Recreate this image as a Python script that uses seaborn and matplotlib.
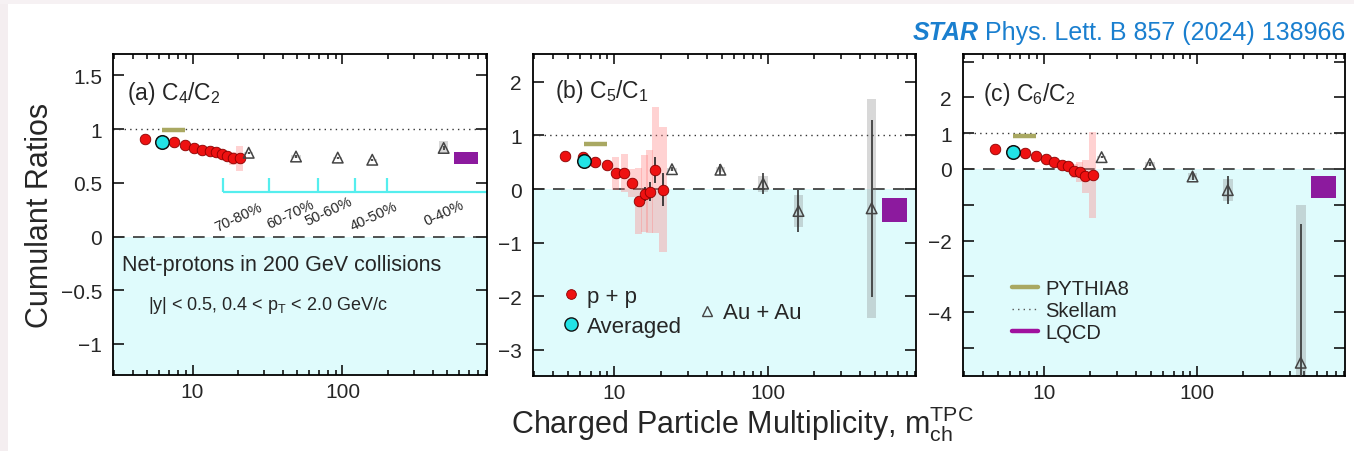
import numpy as np
import matplotlib
matplotlib.use("Agg")
import matplotlib.pyplot as plt
from matplotlib.lines import Line2D
from matplotlib.patches import Rectangle
from matplotlib.ticker import LogLocator, NullFormatter
import seaborn as sns

# ---------------------------------------------------------------- data
# charged-particle multiplicity of the p+p bins, the p+p average and Au+Au centralities
pp_mult = [4.8, 6.2, 7.5, 8.9, 10.2, 11.6, 13.0, 14.4, 15.7, 17.0, 18.5, 20.7]
avg_mult = [6.3]
auau_mult = [23.7, 49.0, 93.0, 158.0, 473.0]

# C4/C2
c42_pp = [0.907, 0.89, 0.876, 0.851, 0.826, 0.805, 0.792, 0.783, 0.764, 0.752, 0.727, 0.727]
c42_pp_stat = [0.005] * 12
c42_pp_sys = [0.01, 0.01, 0.01, 0.01, 0.01, 0.01, 0.015, 0.02, 0.03, 0.04, 0.06, 0.12]
c42_avg = [0.876]
c42_aa = [0.78, 0.745, 0.735, 0.715, 0.825]
c42_aa_stat = [0.01, 0.01, 0.01, 0.01, 0.02]
c42_aa_sys = [0.01, 0.01, 0.01, 0.01, 0.06]
c42_lqcd, c42_lqcd_err = 0.727, 0.056
c42_pythia = 0.99

# C5/C1
c51_pp = [0.62, 0.60, 0.51, 0.45, 0.29, 0.30, 0.11, -0.22, -0.09, -0.05, 0.35, -0.01]
c51_pp_stat = [0.02, 0.02, 0.02, 0.03, 0.04, 0.05, 0.06, 0.08, 0.13, 0.18, 0.24, 0.30]
c51_pp_sys = [0.03, 0.03, 0.04, 0.05, 0.30, 0.35, 0.26, 0.62, 0.72, 0.77, 1.18, 1.17]
c51_avg = [0.52]
c51_aa = [0.37, 0.36, 0.10, -0.41, -0.36]
c51_aa_stat = [0.04, 0.10, 0.20, 0.40, 1.65]
c51_aa_sys = [0.03, 0.05, 0.15, 0.30, 2.04]
c51_lqcd, c51_lqcd_err = -0.39, 0.22
c51_pythia = 0.835

# C6/C2
c62_pp = [0.56, 0.50, 0.45, 0.37, 0.28, 0.19, 0.12, 0.07, -0.05, -0.09, -0.21, -0.17]
c62_pp_stat = [0.01, 0.01, 0.01, 0.01, 0.02, 0.02, 0.02, 0.03, 0.03, 0.04, 0.05, 0.05]
c62_pp_sys = [0.02, 0.02, 0.02, 0.03, 0.04, 0.06, 0.08, 0.12, 0.20, 0.28, 0.47, 1.21]
c62_avg = [0.47]
c62_aa = [0.33, 0.14, -0.21, -0.59, -5.41]
c62_aa_stat = [0.03, 0.05, 0.10, 0.40, 3.87]
c62_aa_sys = [0.02, 0.05, 0.10, 0.30, 4.41]
c62_lqcd, c62_lqcd_err = -0.505, 0.315
c62_pythia = 0.93

# model ranges in multiplicity
lqcd_mult = [552.0, 805.0]
pythia_mult = [6.3, 8.9]

# centrality classes for Au+Au (bin edges in multiplicity)
cent_edges = [16.0, 32.3, 68.4, 122.0, 199.0]
cent_labels = ["70-80%", "60-70%", "50-60%", "40-50%", "0-40%"]

# ---------------------------------------------------------------- style
sns.set_theme(style="ticks")
plt.rcParams["font.family"] = ["Liberation Sans", "DejaVu Sans"]
plt.rcParams["mathtext.fontset"] = "custom"
plt.rcParams["mathtext.rm"] = "Liberation Sans"
plt.rcParams["mathtext.it"] = "Liberation Sans:italic"
plt.rcParams["axes.unicode_minus"] = True

RED = "#ee1111"
CYAN = "#22e3e6"
SHADE = "#dffbfc"
PINK = "#ff7f7f"
OLIVE = "#a9a862"
PURPLE = "#8c1a9e"
BLUE = "#1a7fcf"

fig = plt.figure(figsize=(13.54, 4.52), dpi=100)
fig.patch.set_facecolor("white")
# light frame along the top and left edge
fig.add_artist(Rectangle((0, 0), 8 / 1354, 1, transform=fig.transFigure,
                         color="#f4eef0", lw=0, zorder=-5))
fig.add_artist(Rectangle((0, 447 / 452), 1, 5 / 452, transform=fig.transFigure,
                         color="#f6f1f3", lw=0, zorder=-5))

W, H = 1354, 452
def frame(l, r, t, b):
    return [l / W, 1 - b / H, (r - l) / W, (b - t) / H]

axes = [fig.add_axes(frame(113, 487, 55, 376)),
        fig.add_axes(frame(533, 916, 55, 377)),
        fig.add_axes(frame(963, 1345, 55, 377))]

XLIM = (2.95, 920)


def sys_boxes(ax, x, y, err, half, color, alpha):
    x = np.asarray(x); y = np.asarray(y); err = np.asarray(err)
    ax.bar(x / half, 2 * err, width=x * half - x / half, bottom=y - err,
           align="edge", color=color, alpha=alpha, lw=0, zorder=2)


def draw_panel(ax, pp, pp_stat, pp_sys, avg, aa, aa_stat, aa_sys,
               lqcd, lqcd_err, pythia, ylim):
    ax.set_xscale("log")
    ax.set_xlim(*XLIM)
    ax.set_ylim(*ylim)
    ax.axhspan(ylim[0] - 10, 0, color=SHADE, lw=0, zorder=0)
    ax.axhline(0, color="#333333", lw=1.2, ls=(0, (7, 5)), zorder=1)
    ax.axhline(1, color="#333333", lw=1.0, ls=(0, (1, 3)), zorder=1)

    sys_boxes(ax, pp_mult, pp, pp_sys, 1.055, PINK, 0.35)
    sys_boxes(ax, auau_mult, aa, aa_sys, 1.075, "#808080", 0.3)

    ax.bar(lqcd_mult[0], 2 * lqcd_err, width=lqcd_mult[1] - lqcd_mult[0],
           bottom=lqcd - lqcd_err, align="edge", color=PURPLE, lw=0, zorder=2)
    ax.hlines(pythia, pythia_mult[0], pythia_mult[1], color=OLIVE, lw=3.2, zorder=3)

    ax.errorbar(pp_mult, pp, yerr=pp_stat, fmt="none", ecolor="#222222",
                elinewidth=1.2, capsize=0, zorder=3)
    ax.errorbar(auau_mult, aa, yerr=aa_stat, fmt="none", ecolor="#333333",
                elinewidth=1.2, capsize=0, zorder=3)

    sns.scatterplot(x=pp_mult, y=pp, ax=ax, color=RED, s=58, edgecolor="#8a0000",
                    linewidth=0.6, zorder=4, legend=False)
    sns.scatterplot(x=avg_mult, y=avg, ax=ax, color=CYAN, s=95, edgecolor="#111111",
                    linewidth=1.1, zorder=5, legend=False)
    sns.scatterplot(x=auau_mult, y=aa, ax=ax, marker="^", s=58, facecolor="none",
                    edgecolor="#444444", linewidth=1.1, zorder=5, legend=False)

    ax.set_xticks([10, 100])
    ax.set_xticklabels(["10", "100"])
    ax.xaxis.set_minor_locator(LogLocator(base=10, subs=np.arange(2, 10)))
    ax.xaxis.set_minor_formatter(NullFormatter())
    ax.tick_params(axis="both", which="both", direction="in", top=True, right=True,
                   labelsize=15, color="black", width=1.1)
    ax.tick_params(axis="x", which="major", length=7, pad=5)
    ax.tick_params(axis="x", which="minor", length=3.5)
    ax.tick_params(axis="y", which="major", length=8, pad=8)
    for s in ax.spines.values():
        s.set_linewidth(1.3)
        s.set_color("black")
    ax.set_xlabel("")
    ax.set_ylabel("")


ax_a, ax_b, ax_c = axes
draw_panel(ax_a, c42_pp, c42_pp_stat, c42_pp_sys, c42_avg, c42_aa, c42_aa_stat,
           c42_aa_sys, c42_lqcd, c42_lqcd_err, c42_pythia, (-1.29, 1.70))
draw_panel(ax_b, c51_pp, c51_pp_stat, c51_pp_sys, c51_avg, c51_aa, c51_aa_stat,
           c51_aa_sys, c51_lqcd, c51_lqcd_err, c51_pythia, (-3.49, 2.52))
draw_panel(ax_c, c62_pp, c62_pp_stat, c62_pp_sys, c62_avg, c62_aa, c62_aa_stat,
           c62_aa_sys, c62_lqcd, c62_lqcd_err, c62_pythia, (-5.78, 3.21))

# y ticks
ya = [-1, -0.5, 0, 0.5, 1, 1.5]
ax_a.set_yticks(ya)
ax_a.set_yticklabels(["\u22121", "\u22120.5", "0", "0.5", "1", "1.5"])
yb = [-3, -2, -1, 0, 1, 2]
ax_b.set_yticks(yb)
ax_b.set_yticklabels(["\u22123", "\u22122", "\u22121", "0", "1", "2"])
yc = [-5, -4, -3, -2, -1, 0, 1, 2, 3]
ax_c.set_yticks(yc)
ax_c.set_yticklabels(["", "\u22124", "", "\u22122", "", "0", "1", "2", ""])

# panel titles
ax_a.text(0.037, 0.86, r"(a) C$_4$/C$_2$", transform=ax_a.transAxes, fontsize=16.5, va="baseline")
ax_b.text(0.057, 0.866, r"(b) C$_5$/C$_1$", transform=ax_b.transAxes, fontsize=16.5, va="baseline")
ax_c.text(0.053, 0.857, r"(c) C$_6$/C$_2$", transform=ax_c.transAxes, fontsize=16.5, va="baseline")

ax_a.text(0.024, 0.328, "Net-protons in 200 GeV collisions", transform=ax_a.transAxes,
          fontsize=15.5, va="baseline")
ax_a.text(0.094, 0.206, r"|y| < 0.5, 0.4 < p$_{\rm T}$ < 2.0 GeV/c", transform=ax_a.transAxes,
          fontsize=13, va="baseline")

# centrality bracket
ax_a.hlines(0.41, cent_edges[0], XLIM[1], color="#55eeee", lw=1.6, zorder=2)
ax_a.vlines(cent_edges, 0.41, 0.546, color="#55eeee", lw=1.6, zorder=2)
lab_pos = [(20.3, 0.187), (45.0, 0.215), (80.7, 0.243), (161.0, 0.196), (471.0, 0.224)]
for (lx, ly), lab in zip(lab_pos, cent_labels):
    ax_a.text(lx, ly, lab, fontsize=10.5, rotation=25, ha="center", va="center")

# legends
h_pp = Line2D([], [], ls="none", marker="o", ms=7, mfc=RED, mec="#8a0000", mew=0.6)
h_avg = Line2D([], [], ls="none", marker="o", ms=9.5, mfc=CYAN, mec="#111111", mew=1.0)
h_aa = Line2D([], [], ls="none", marker="^", ms=6.5, mfc="none", mec="#444444", mew=1.0)
leg1 = ax_b.legend([h_pp, h_avg], ["p + p", "Averaged"], loc="center left",
                   bbox_to_anchor=(0.076, 0.201), frameon=False, fontsize=16,
                   handlelength=0.8, handletextpad=0.32, labelspacing=0.4,
                   borderpad=0, borderaxespad=0)
ax_b.add_artist(leg1)
ax_b.legend([h_aa], ["Au + Au"], loc="center left", bbox_to_anchor=(0.432, 0.196),
            frameon=False, fontsize=16, handlelength=0.8, handletextpad=0.32,
            borderpad=0, borderaxespad=0)

h_py = Line2D([], [], color=OLIVE, lw=3.2)
h_sk = Line2D([], [], color="#555555", lw=1.0, ls=(0, (1, 3)))
h_lq = Line2D([], [], color="#a0109e", lw=3.2)
ax_c.legend([h_py, h_sk, h_lq], ["PYTHIA8", "Skellam", "LQCD"], loc="center left",
            bbox_to_anchor=(0.1275, 0.203), frameon=False, fontsize=14.5,
            handlelength=1.32, handletextpad=0.33, labelspacing=0.15,
            borderpad=0, borderaxespad=0)

# axis titles
fig.text(40 / W, 0.523, "Cumulant Ratios", rotation=90, fontsize=22, ha="center", va="center")
fig.text(742 / W, 1 - 434 / H, r"Charged Particle Multiplicity, m$_{\rm ch}^{\rm TPC}$",
         fontsize=22, ha="center", va="baseline")

# publication tag
fig.canvas.draw()
renderer = fig.canvas.get_renderer()
ty = 1 - 40 / H
t_ref = fig.text(1345 / W, ty, "Phys. Lett. B 857 (2024) 138966", fontsize=18,
                 color=BLUE, ha="right", va="baseline")
bb = t_ref.get_window_extent(renderer)
fig.text((bb.x0 - 6) / W, ty, "STAR", fontsize=18, color=BLUE, ha="right",
         va="baseline", fontweight="bold", fontstyle="italic")

fig.savefig("out.png", dpi=100, facecolor=fig.get_facecolor())
